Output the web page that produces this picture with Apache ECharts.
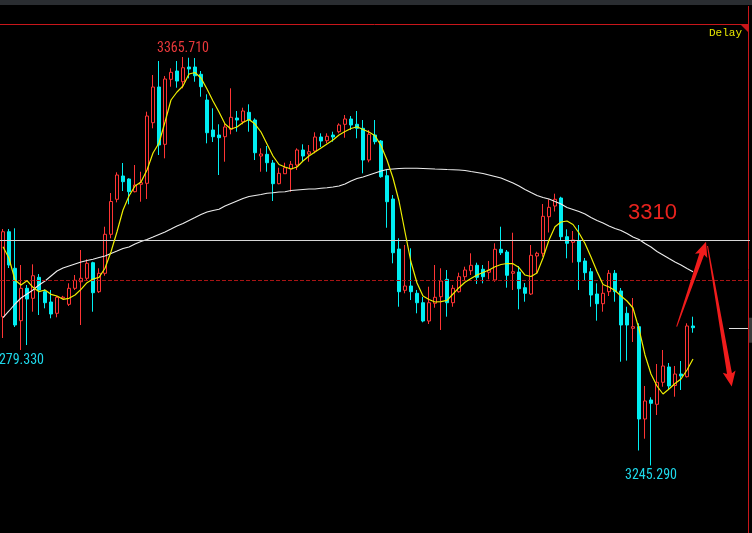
<!DOCTYPE html>
<html>
<head>
<meta charset="utf-8">
<script src="https://cdn.jsdelivr.net/npm/echarts@6/dist/echarts.min.js"></script>
<style>
  html, body { margin: 0; padding: 0; background: #000; }
  #chart { width: 752px; height: 533px; }
</style>
</head>
<body>
<div id="chart"></div>
<script>
// ---- price data (one entry per bar) ----
const openPrices = [
  3289.15, 3314.20, 3303.42, 3287.97, 3297.52, 3294.57, 3300.76, 3296.52, 3293.48, 3290.15,
  3294.60, 3292.80, 3297.52, 3299.46, 3300.47, 3305.07, 3296.52, 3301.94, 3313.44, 3323.76,
  3330.63, 3329.74, 3326.00, 3328.18, 3328.47, 3346.34, 3356.86, 3339.97, 3359.13, 3361.58,
  3358.42, 3362.76, 3362.76, 3360.61, 3353.03, 3344.19, 3342.71, 3342.21, 3344.39, 3347.72,
  3346.63, 3349.40, 3347.13, 3336.52, 3337.02, 3334.46, 3328.36, 3331.30, 3332.69, 3333.87,
  3338.29, 3337.11, 3338.00, 3342.12, 3341.03, 3342.71, 3343.69, 3345.87, 3347.43, 3345.87,
  3344.69, 3335.34, 3342.71, 3340.94, 3330.71, 3323.84, 3309.10, 3296.93, 3298.20, 3296.05,
  3293.27, 3287.88, 3293.10, 3295.04, 3300.17, 3293.27, 3296.52, 3300.94, 3302.71, 3304.30,
  3303.12, 3302.24, 3299.97, 3309.02, 3308.22, 3301.94, 3302.32, 3297.70, 3295.84, 3307.04,
  3307.84, 3318.63, 3321.78, 3324.14, 3312.73, 3311.08, 3311.55, 3305.57, 3302.41, 3295.84,
  3292.98, 3296.52, 3301.94, 3296.72, 3290.15, 3285.73, 3286.20, 3258.99, 3264.59, 3263.32,
  3269.81, 3274.32, 3268.86, 3272.25, 3271.46, 3286.41
];
const closePrices = [
  3314.20, 3304.39, 3286.70, 3297.52, 3294.36, 3301.23, 3297.02, 3293.27, 3289.94, 3294.87,
  3294.90, 3297.52, 3299.88, 3300.47, 3304.89, 3296.22, 3301.94, 3313.44, 3323.11, 3330.92,
  3328.95, 3326.00, 3327.97, 3328.65, 3348.31, 3356.86, 3339.76, 3359.22, 3361.20, 3358.63,
  3362.55, 3362.17, 3360.19, 3356.95, 3343.39, 3342.21, 3341.92, 3345.07, 3347.93, 3347.13,
  3349.79, 3347.13, 3337.49, 3337.11, 3334.55, 3328.36, 3331.42, 3333.07, 3334.07, 3338.29,
  3336.52, 3337.79, 3342.12, 3340.94, 3342.33, 3342.12, 3345.66, 3347.43, 3345.66, 3344.69,
  3335.34, 3342.92, 3340.74, 3330.42, 3323.05, 3308.01, 3296.52, 3298.20, 3296.52, 3293.27,
  3287.88, 3293.27, 3294.87, 3299.67, 3293.27, 3297.52, 3300.94, 3302.91, 3304.30, 3300.76,
  3300.94, 3302.91, 3309.02, 3308.01, 3301.35, 3302.41, 3297.40, 3296.05, 3307.25, 3307.84,
  3318.74, 3321.40, 3323.76, 3312.73, 3310.79, 3311.76, 3305.36, 3302.12, 3295.54, 3292.98,
  3296.05, 3301.94, 3296.52, 3286.70, 3286.70, 3286.20, 3258.99, 3264.30, 3263.62, 3269.81,
  3274.61, 3268.72, 3272.25, 3271.67, 3286.41, 3285.90
];
const lowPrices = [
  3282.87, 3303.50, 3286.11, 3279.33, 3280.80, 3290.62, 3289.65, 3291.62, 3288.68, 3288.97,
  3294.30, 3292.30, 3297.02, 3286.70, 3299.97, 3290.62, 3296.13, 3301.23, 3312.26, 3322.87,
  3326.20, 3322.28, 3325.80, 3323.05, 3323.84, 3344.69, 3336.82, 3335.84, 3356.95, 3356.66,
  3356.48, 3359.43, 3358.42, 3354.00, 3340.26, 3340.65, 3330.92, 3334.84, 3342.92, 3343.69,
  3345.87, 3343.69, 3335.34, 3331.89, 3331.89, 3323.26, 3328.18, 3331.21, 3326.00, 3332.39,
  3334.84, 3334.84, 3337.32, 3339.17, 3340.26, 3340.74, 3343.21, 3341.92, 3344.19, 3341.74,
  3331.42, 3334.66, 3339.97, 3330.12, 3315.38, 3304.89, 3292.09, 3296.05, 3294.07, 3290.15,
  3287.50, 3287.00, 3291.80, 3285.23, 3289.15, 3292.09, 3296.22, 3299.97, 3301.44, 3298.79,
  3298.99, 3300.17, 3299.46, 3307.34, 3297.70, 3297.02, 3291.33, 3293.57, 3295.54, 3301.94,
  3306.84, 3313.97, 3320.16, 3311.76, 3306.36, 3305.07, 3297.02, 3299.97, 3292.09, 3287.97,
  3290.62, 3295.25, 3293.57, 3275.88, 3276.20, 3281.69, 3249.70, 3253.18, 3245.29, 3260.17,
  3268.51, 3267.54, 3265.56, 3267.54, 3271.22, 3284.43
];
const highPrices = [
  3315.00, 3315.00, 3315.21, 3304.39, 3298.49, 3304.59, 3301.73, 3297.22, 3297.02, 3295.25,
  3295.30, 3298.99, 3301.44, 3308.81, 3306.07, 3305.36, 3303.42, 3315.68, 3325.61, 3331.72,
  3334.46, 3329.95, 3333.87, 3331.89, 3349.58, 3360.40, 3364.53, 3360.11, 3362.38, 3364.53,
  3365.71, 3365.50, 3365.40, 3361.58, 3354.71, 3350.58, 3345.87, 3346.16, 3356.48, 3349.79,
  3350.76, 3351.76, 3347.63, 3338.79, 3339.47, 3335.34, 3333.07, 3334.55, 3335.05, 3338.79,
  3339.97, 3339.76, 3343.51, 3343.21, 3343.21, 3343.69, 3346.16, 3348.61, 3348.31, 3349.79,
  3347.13, 3344.19, 3347.13, 3341.24, 3332.39, 3325.02, 3312.26, 3310.28, 3309.31, 3297.02,
  3294.95, 3297.99, 3304.39, 3303.42, 3302.91, 3298.49, 3302.12, 3303.89, 3307.84, 3305.07,
  3304.39, 3305.57, 3310.79, 3315.68, 3308.81, 3313.91, 3304.09, 3299.08, 3310.28, 3308.31,
  3322.37, 3323.76, 3325.41, 3324.52, 3314.91, 3314.41, 3316.18, 3306.45, 3303.50, 3298.99,
  3298.49, 3302.91, 3302.91, 3297.61, 3292.09, 3294.66, 3287.20, 3268.72, 3265.39, 3275.20,
  3279.33, 3275.50, 3274.61, 3276.09, 3287.20, 3289.15
];
// short moving average (yellow)
const maShort = [
  3309.78, 3306.36, 3299.97, 3298.49, 3299.76, 3297.81, 3296.52, 3297.02, 3295.75, 3295.25,
  3294.28, 3294.57, 3295.54, 3297.22, 3299.17, 3300.26, 3300.76, 3303.42, 3308.31, 3314.20,
  3320.60, 3324.73, 3327.68, 3328.86, 3332.39, 3337.41, 3340.35, 3346.54, 3353.03, 3355.39,
  3357.16, 3360.69, 3361.14, 3359.52, 3356.27, 3352.74, 3349.49, 3345.95, 3344.48, 3345.07,
  3346.40, 3347.28, 3345.95, 3343.60, 3340.06, 3336.52, 3334.02, 3333.28, 3332.69, 3333.28,
  3335.05, 3336.52, 3337.70, 3338.88, 3340.06, 3341.24, 3342.71, 3343.74, 3344.63, 3345.16,
  3344.33, 3343.60, 3342.51, 3339.62, 3335.34, 3330.04, 3323.26, 3314.12, 3305.27, 3299.08,
  3295.25, 3294.22, 3293.48, 3293.57, 3293.98, 3295.84, 3297.70, 3299.29, 3300.41, 3301.44,
  3302.18, 3302.91, 3303.89, 3304.54, 3304.83, 3304.77, 3303.65, 3301.44, 3301.00, 3302.03,
  3306.45, 3311.76, 3315.68, 3317.06, 3317.36, 3316.33, 3313.82, 3310.73, 3306.75, 3302.47,
  3298.64, 3297.90, 3296.87, 3295.25, 3293.78, 3291.71, 3285.52, 3277.86, 3272.25, 3268.72,
  3266.36, 3267.83, 3269.45, 3270.78, 3273.43, 3276.68
];
// long moving average (white)
const maLong = [
  3288.90, 3290.83, 3292.89, 3294.66, 3295.84, 3297.02, 3298.49, 3299.67, 3301.15, 3302.62,
  3303.50, 3304.09, 3304.68, 3305.27, 3305.71, 3306.07, 3306.60, 3307.04, 3307.78, 3308.51,
  3309.25, 3309.69, 3310.58, 3311.32, 3311.91, 3312.64, 3313.38, 3314.12, 3315.00, 3315.89,
  3316.62, 3317.51, 3318.39, 3319.28, 3320.01, 3320.46, 3320.81, 3321.78, 3322.52, 3323.26,
  3323.99, 3324.58, 3324.88, 3325.17, 3325.53, 3325.70, 3325.91, 3326.00, 3326.35, 3326.50,
  3326.65, 3326.79, 3326.79, 3327.00, 3327.18, 3327.38, 3327.68, 3328.27, 3329.15, 3329.89,
  3330.33, 3330.92, 3331.51, 3332.10, 3332.54, 3332.69, 3332.84, 3332.90, 3332.90, 3332.90,
  3332.84, 3332.78, 3332.69, 3332.63, 3332.54, 3332.48, 3332.39, 3332.25, 3331.95, 3331.66,
  3331.36, 3330.92, 3330.48, 3330.04, 3329.30, 3328.56, 3327.68, 3326.65, 3325.76, 3324.88,
  3324.29, 3323.84, 3323.11, 3322.37, 3321.34, 3320.75, 3320.16, 3319.42, 3318.39, 3317.51,
  3316.77, 3315.89, 3315.15, 3314.56, 3313.67, 3312.64, 3311.91, 3310.73, 3309.69, 3308.37,
  3307.34, 3306.30, 3305.27, 3304.39, 3303.36, 3302.41
];
// horizontal reference levels
const resistanceLevel = 3311.8;
const pivotLevel = 3299.8;
// bars whose extreme values are labelled: [bar index, 'high' | 'low']
const labelledExtremes = [[30, 'high'], [3, 'low'], [108, 'low']];
// empty slots kept to the right of the last bar
const slotCount = 125;
const categories = Array.from({ length: slotCount }, (_, i) => String(i + 1));

const UP = '#ff3434';
const DOWN = '#00eef2';
const LABEL_FONT = '"Liberation Sans Narrow", "Roboto Condensed", "DejaVu Sans Condensed", sans-serif';

const candleData = openPrices.map((o, i) => [o, closePrices[i], lowPrices[i], highPrices[i]]);

const extremePoints = labelledExtremes.map(([idx, kind]) => {
  const v = kind === 'high' ? highPrices[idx] : lowPrices[idx];
  return {
    coord: [idx, v],
    value: v,
    label: {
      position: kind === 'high' ? 'top' : 'bottom',
      distance: kind === 'high' ? 2 : 3,
      offset: idx < 10 ? [-3, 0] : [0, 0],
      color: kind === 'high' ? '#e8383a' : '#1ed8ea'
    }
  };
});

const chart = echarts.init(document.getElementById('chart'), null, { renderer: 'canvas' });

chart.setOption({
  backgroundColor: '#000',
  animation: false,
  grid: { left: 0, top: 24, width: 750, height: 509 },
  xAxis: { type: 'category', data: categories, boundaryGap: true, show: false },
  yAxis: { type: 'value', min: 3225.38, max: 3375.44, show: false },
  series: [
    {
      name: 'levels',
      type: 'line',
      data: [],
      z: 1,
      markLine: {
        silent: true,
        symbol: ['none', 'none'],
        label: { show: false },
        animation: false,
        data: [
          { yAxis: resistanceLevel, lineStyle: { color: '#d6d6d6', type: 'solid', width: 1 } },
          { yAxis: pivotLevel, lineStyle: { color: '#a81414', type: [4, 2], width: 1 } }
        ]
      }
    },
    {
      name: 'K',
      type: 'candlestick',
      data: candleData,
      barWidth: 4,
      z: 3,
      itemStyle: {
        color: '#000',
        color0: DOWN,
        borderColor: UP,
        borderColor0: DOWN,
        borderColorDoji: UP,
        borderWidth: 1
      },
      markPoint: {
        symbol: 'circle',
        symbolSize: 0,
        silent: true,
        animation: false,
        label: {
          show: true,
          fontFamily: LABEL_FONT,
          fontSize: 14,
          formatter: p => Number(p.value).toFixed(3)
        },
        data: extremePoints
      }
    },
    {
      name: 'MA long',
      type: 'line',
      data: maLong,
      showSymbol: false,
      z: 4,
      lineStyle: { color: '#ececec', width: 1.1 }
    },
    {
      name: 'MA short',
      type: 'line',
      data: maShort,
      showSymbol: false,
      z: 5,
      lineStyle: { color: '#eeee00', width: 1.2 }
    }
  ]
});

// helper: pixel position of a (fractional bar index, price) pair
function toPx(idxF, price) {
  const i0 = Math.floor(idxF);
  const a = chart.convertToPixel({ gridIndex: 0 }, [i0, price]);
  const b = chart.convertToPixel({ gridIndex: 0 }, [i0 + 1, price]);
  return [a[0] + (idxF - i0) * (b[0] - a[0]), a[1]];
}

// tapered arrow outline from S to tip T
function arrowShape(S, T, w0, w1, hw, hl) {
  const dx = T[0] - S[0], dy = T[1] - S[1];
  const L = Math.hypot(dx, dy);
  const ux = dx / L, uy = dy / L, nx = -uy, ny = ux;
  const B = [T[0] - ux * hl, T[1] - uy * hl];
  return [
    [S[0] + nx * w0, S[1] + ny * w0],
    [B[0] + nx * w1, B[1] + ny * w1],
    [B[0] + nx * hw - ux * 2, B[1] + ny * hw - uy * 2],
    T,
    [B[0] - nx * hw - ux * 2, B[1] - ny * hw - uy * 2],
    [B[0] - nx * w1, B[1] - ny * w1],
    [S[0] - nx * w0, S[1] - ny * w0]
  ];
}

// projected move: rise back to resistance, then fall
const projection = [
  { from: [112.28, 3286.2], to: [117.17, 3311.26] },
  { from: [117.42, 3309.99], to: [121.45, 3268.57] }
];

const lastClose = closePrices[closePrices.length - 1];
const lastY = chart.convertToPixel({ yAxisIndex: 0 }, lastClose);

const graphics = [
  { type: 'rect', shape: { x: 0, y: 0, width: 752, height: 5 }, style: { fill: '#2a2d31' }, silent: true },
  { type: 'line', shape: { x1: 0, y1: 24.5, x2: 749, y2: 24.5 }, style: { stroke: '#c8161a', lineWidth: 1 }, silent: true },
  { type: 'line', shape: { x1: 748.5, y1: 6, x2: 748.5, y2: 533 }, style: { stroke: '#c8161a', lineWidth: 1 }, silent: true },
  { type: 'polygon', shape: { points: [[740, 24], [749, 24], [749, 33]] }, style: { fill: '#c8161a' }, silent: true },
  {
    type: 'text', left: 709, top: 28, silent: true,
    style: { text: 'Delay', fill: '#e6e600', font: '11px "Liberation Mono", "DejaVu Sans Mono", monospace' }
  },
  {
    type: 'text', x: 628, y: 213, silent: true,
    style: { text: '3310', fill: '#e8231e', font: '22px "Liberation Sans", Arial, sans-serif', verticalAlign: 'middle' }
  },
  { type: 'line', shape: { x1: 729, y1: Math.round(lastY) + 0.5, x2: 748, y2: Math.round(lastY) + 0.5 }, style: { stroke: '#e0e0e0', lineWidth: 1 }, silent: true },
  { type: 'rect', shape: { x: 749, y: lastY - 10, width: 3, height: 25 }, style: { fill: '#3a3a3a' }, silent: true }
];

projection.forEach(seg => {
  const S = toPx(seg.from[0], seg.from[1]);
  const T = toPx(seg.to[0], seg.to[1]);
  graphics.push({
    type: 'polygon',
    silent: true,
    z: 100,
    shape: { points: arrowShape(S, T, 0.5, 2.5, 6.5, 13) },
    style: { fill: '#f01c1c' }
  });
});

chart.setOption({ graphic: graphics });
</script>
</body>
</html>
